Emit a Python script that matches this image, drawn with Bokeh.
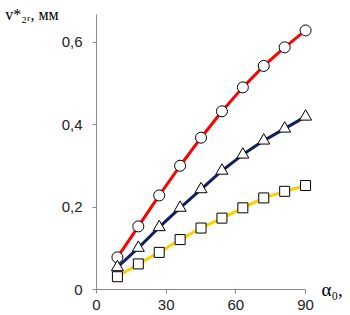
from bokeh.plotting import figure
from bokeh.models import Range1d, FixedTicker, LinearAxis
from bokeh.embed import file_html
from bokeh.resources import INLINE

alpha = [9, 18, 27, 36, 45, 54, 63, 72, 81, 90]
circles = [0.078, 0.153, 0.228, 0.300, 0.368, 0.432, 0.490, 0.542, 0.587, 0.628]
triangles = [0.054, 0.101, 0.151, 0.198, 0.243, 0.288, 0.327, 0.361, 0.390, 0.419]
squares = [0.031, 0.062, 0.090, 0.121, 0.149, 0.173, 0.198, 0.222, 0.238, 0.252]
x_ticks = [0, 30, 60, 90]
y_ticks = [0, 0.2, 0.4, 0.6]
y_tick_labels = {0: "0", 0.2: "0,2", 0.4: "0,4", 0.6: "0,6"}
y_title = "v*₂ᵣ, мм"
x_title = "α₀,"

W, H = 350, 315
PXU = 209 / 90.0
PYU = 412.5
L, T, B = 96, 14, 26
XMAX = 96
YMAX = (H - B - T) / PYU
R = W - L - int(round(XMAX * PXU))

p = figure(width=W, height=H, output_backend="svg", toolbar_location=None,
           x_range=Range1d(0, XMAX), y_range=Range1d(0, YMAX),
           min_border_left=L, min_border_right=R, min_border_top=T, min_border_bottom=B)
p.outline_line_color = None
p.xgrid.visible = False
p.ygrid.visible = False

for ax in (p.xaxis[0], p.yaxis[0]):
    ax.axis_line_color = "#8a8a8a"
    ax.major_tick_line_color = "#8a8a8a"
    ax.minor_tick_line_color = None
    ax.major_tick_in = 0
    ax.major_tick_out = 4
    ax.major_label_text_font = "Liberation Sans"
    ax.major_label_text_font_size = "15px"
    ax.major_label_text_color = "#222222"
p.xaxis.ticker = FixedTicker(ticks=x_ticks)
p.xaxis.bounds = (0, 90)
p.yaxis.ticker = FixedTicker(ticks=y_ticks)
p.yaxis.major_label_overrides = y_tick_labels
p.yaxis.major_label_standoff = 10
p.xaxis.major_label_standoff = 6

ya = p.yaxis[0]
ya.axis_label = y_title
ya.axis_label_text_font = "Liberation Serif"
ya.axis_label_text_font_size = "16px"
ya.axis_label_text_font_style = "normal"
ya.axis_label_text_color = "black"
ya.axis_label_standoff = 0
ya.axis_label_orientation = "horizontal"
try:
    ya.axis_label_align = "end"
except Exception:
    pass

ra = LinearAxis(ticker=FixedTicker(ticks=[]), axis_line_color=None,
                major_tick_line_color=None, minor_tick_line_color=None,
                major_label_text_font_size="0px",
                axis_label=x_title, axis_label_text_font="Liberation Serif",
                axis_label_text_font_size="19px", axis_label_text_font_style="normal",
                axis_label_text_color="black", axis_label_standoff=2,
                axis_label_orientation="horizontal")
try:
    ra.axis_label_align = "start"
except Exception:
    pass
p.add_layout(ra, "right")

p.line(alpha, circles, line_color="#ff0000", line_width=3)
p.line(alpha, triangles, line_color="#0f1f5f", line_width=3)
p.line(alpha, squares, line_color="#ffd000", line_width=3)
p.scatter(alpha, circles, marker="circle", size=11, fill_color="white", line_color="black", line_width=1)
p.scatter(alpha, triangles, marker="triangle", size=12, fill_color="white", line_color="black", line_width=1)
p.scatter(alpha, squares, marker="square", size=10, fill_color="white", line_color="black", line_width=1)

open("out.html", "w").write(file_html(p, INLINE))
